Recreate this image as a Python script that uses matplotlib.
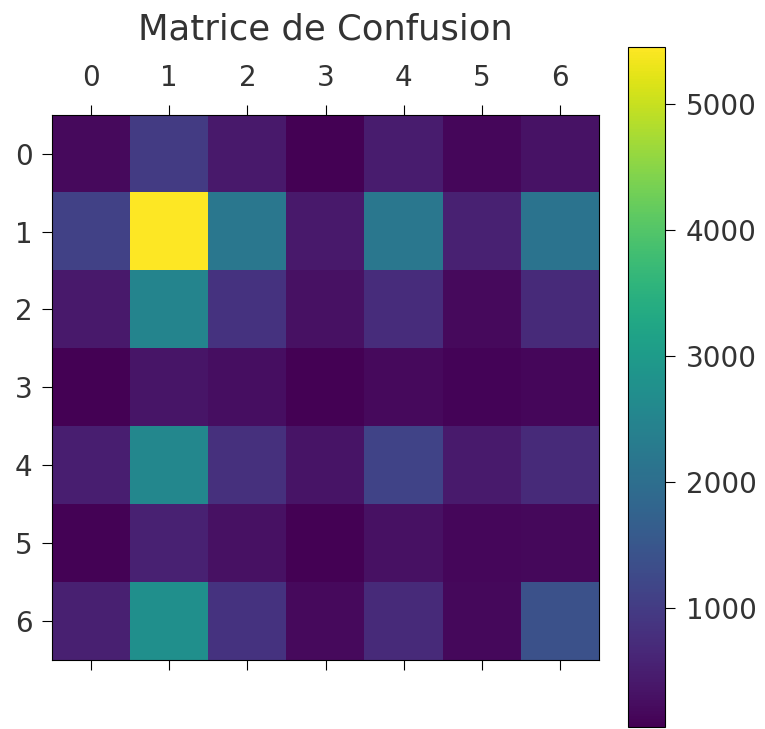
import matplotlib
matplotlib.use("Agg")
import matplotlib.pyplot as plt
import numpy as np

# confusion matrix values (rows = true class, cols = predicted)
classes = [0, 1, 2, 3, 4, 5, 6]
row0 = [200, 1000, 420, 56, 460, 150, 320]
row1 = [1100, 5450, 2200, 420, 2200, 560, 2100]
row2 = [420, 2500, 850, 300, 750, 200, 700]
row3 = [70, 370, 250, 60, 200, 100, 150]
row4 = [500, 2550, 800, 350, 1150, 450, 700]
row5 = [80, 560, 300, 60, 300, 150, 170]
row6 = [520, 2750, 850, 200, 700, 180, 1400]
cbar_ticks = [1000, 2000, 3000, 4000, 5000]

cm = np.array([row0, row1, row2, row3, row4, row5, row6])

fig = plt.figure(figsize=(7.65, 7.29), dpi=100)
ax = fig.add_axes([0.068, 0.0947, 0.715, 0.748])
cax = fig.add_axes([0.821, 0.0027, 0.0484, 0.933])

im = ax.matshow(cm, cmap="viridis", aspect="auto")
ax.set_xticks(range(len(classes)))
ax.set_yticks(range(len(classes)))
ax.set_xticklabels(classes, fontsize=20, color="#333333")
ax.set_yticklabels(classes, fontsize=20, color="#333333")
ax.tick_params(axis="x", length=7, pad=9)
ax.tick_params(axis="y", length=7, pad=7)
ax.set_title("Matrice de Confusion", fontsize=25.5, color="#333333",
             y=1.138, pad=0)

cb = fig.colorbar(im, cax=cax)
cb.set_ticks(cbar_ticks)
cb.ax.tick_params(labelsize=20, length=7, pad=8, labelcolor="#333333")

plt.savefig("out.png", dpi=100)
